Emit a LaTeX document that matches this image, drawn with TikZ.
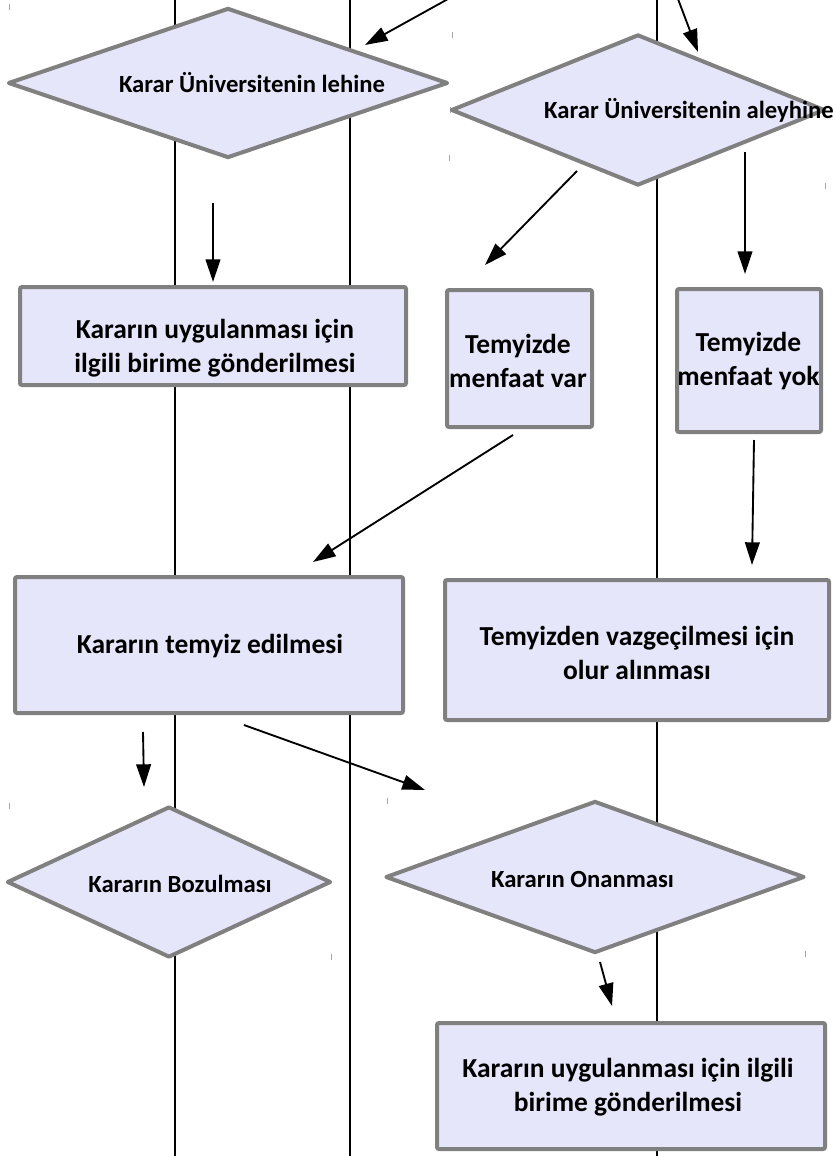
\documentclass[tikz,border=0pt]{standalone}
\usepackage{fontspec}
\setmainfont{Carlito}
\usetikzlibrary{arrows.meta,shapes.geometric}
\definecolor{boxfill}{HTML}{E6E6FA}
\definecolor{boxline}{HTML}{808080}
\begin{document}
\begin{tikzpicture}[x=0.75pt,y=-0.75pt,
  boxshape/.style={draw=boxline, fill=boxfill, line width=3pt, rounded corners=1.5pt, inner sep=0pt},
  decision/.style={diamond, draw=boxline, fill=boxfill, line width=3pt, inner sep=0pt, line join=round},
  lane/.style={black, line width=0.8pt},
  flow/.style={-{Triangle[length=17pt,width=11pt]}, line width=1.4pt},
  boxtext/.style={font=\fontsize{20.6}{25.5}\selectfont\bfseries, align=center, inner sep=0pt},
  dtext/.style={font=\fontsize{18.5}{22}\selectfont\bfseries, inner sep=0pt},
  tickmark/.style={draw=black!35, line width=0.6pt}]
\useasboundingbox (0,0) rectangle (835,1156);
% swimlane lines
\draw[lane] (175,0) -- (175,1156);
\draw[lane] (350,0) -- (350,1156);
\draw[lane] (657,0) -- (657,1156);
% small tick marks
\foreach \tx/\ty in {9/7,452/35,450/110,449/158,825/186,9/806,387/801,331/957,805/954}
  \draw[tickmark] (\tx,\ty-3) -- (\tx,\ty+3);
% decisions
\node[decision, minimum width=330pt, minimum height=112.5pt] (d1) at (228,83) {};
\node[dtext] (t1) at (252,83) {Karar Üniversitenin lehine};
\node[decision, minimum width=280.5pt, minimum height=113.25pt] (d2) at (638,110) {};
\node[dtext] (t2) at (689,110) {Karar Üniversitenin aleyhine};
% boxes row 1
\node[boxshape, minimum width=289.5pt, minimum height=73.5pt] (bA) at (213,336) {};
\node[boxtext] (tA) at (215,348) {Kararın uygulanması için\\ilgili birime gönderilmesi};
\node[boxshape, minimum width=108.75pt, minimum height=102.75pt] (bV) at (519.5,358.5) {};
\node[boxtext] (tV) at (518,361) {Temyizde\\menfaat var};
\node[boxshape, minimum width=108pt, minimum height=107.25pt] (bY) at (749,360.5) {};
\node[boxtext] (tY) at (748.5,361) {Temyizde\\menfaat yok};
% boxes row 2
\node[boxshape, minimum width=291pt, minimum height=102pt] (bT) at (209,645) {};
\node[boxtext] (tT) at (210,646) {Kararın temyiz edilmesi};
\node[boxshape, minimum width=288pt, minimum height=105pt] (bZ) at (637,650) {};
\node[boxtext] (tZ) at (637,653) {Temyizden vazgeçilmesi için\\olur alınması};
% decisions row 3
\node[decision, minimum width=243pt, minimum height=113.25pt] (d3) at (169,882) {};
\node[dtext] (t3) at (180,884) {Kararın Bozulması};
\node[decision, minimum width=314.25pt, minimum height=114pt] (d4) at (595,877) {};
\node[dtext] (t4) at (582.5,879) {Kararın Onanması};
% final box
\node[boxshape, minimum width=291pt, minimum height=94.5pt] (bF) at (631,1086) {};
\node[boxtext] (tF) at (628,1087) {Kararın uygulanması için ilgili\\birime gönderilmesi};
% connector end points
\coordinate (a1s) at (448,-1);   \coordinate (a1e) at (365,45);
\coordinate (a2s) at (678,-1);   \coordinate (a2e) at (698,52);
\coordinate (a3s) at (213,203);  \coordinate (a3e) at (213,282);
\coordinate (a4s) at (577,171);  \coordinate (a4e) at (485,265);
\coordinate (a5s) at (745,152);  \coordinate (a5e) at (745,274);
\coordinate (a6s) at (513,435);  \coordinate (a6e) at (313,562);
\coordinate (a7s) at (754,440);  \coordinate (a7e) at (752,565);
\coordinate (a8s) at (143,732);  \coordinate (a8e) at (144,787);
\coordinate (a9s) at (244,725);  \coordinate (a9e) at (425,790);
\coordinate (a10s) at (600,962); \coordinate (a10e) at (612,1006);
\foreach \i in {1,...,10}
  \draw[flow] (a\i s) -- (a\i e);
\end{tikzpicture}
\end{document}
